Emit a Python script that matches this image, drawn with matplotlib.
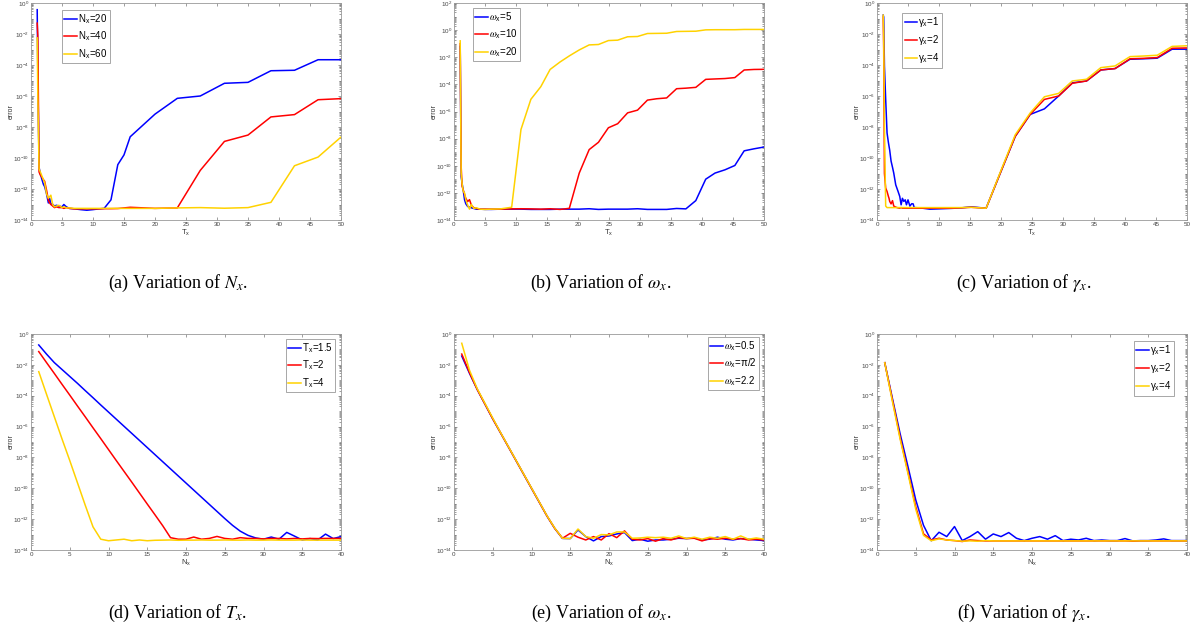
"""Error curves for varying parameters, six panels (MATLAB look)."""
import numpy as np
import matplotlib
matplotlib.use("Agg")
import matplotlib.pyplot as plt
from matplotlib.ticker import LogLocator, NullFormatter

plt.rcParams["font.family"] = ["Liberation Sans", "DejaVu Sans"]
plt.rcParams["mathtext.fontset"] = "stix"

BLUE, RED, YELLOW = "#0000ff", "#ff0000", "#ffd200"

# ---- (a) variation of N_x : error vs T_x (log10 of error) ----
a_tx = [1.0, 1.1, 1.3, 1.5, 1.7, 2.0, 2.2, 2.5, 2.8, 3.0, 3.2, 3.5, 3.8, 4.1, 4.5,
        5.0, 5.3, 5.7, 6.2, 7.0, 8.0, 9.0, 10.0, 11.0, 11.8, 12.9, 14.0, 15.0, 16.0,
        20.0, 23.6, 27.3, 31.2, 35.0, 38.7, 42.5, 46.3, 50.0]
a_nx20 = [-0.43, -4.5, -10.6, -11.0, -11.3, -11.7, -11.85, -12.3, -12.9, -12.6, -12.95,
          -13.0, -13.1, -13.05, -13.1, -13.15, -13.0, -13.15, -13.25, -13.28, -13.33,
          -13.37, -13.33, -13.28, -13.25, -12.7, -10.43, -9.8, -8.63, -7.17, -6.15,
          -6.0, -5.18, -5.12, -4.37, -4.34, -3.66, -3.66]
a_nx40 = [-1.3, -2.1, -10.9, -11.1, -11.2, -11.4, -11.5, -12.06, -12.7, -12.9, -13.0,
          -13.1, -13.2, -13.15, -13.2, -13.2, -13.25, -13.2, -13.25, -13.28, -13.28,
          -13.28, -13.28, -13.28, -13.27, -13.27, -13.26, -13.22, -13.18, -13.25,
          -13.22, -10.8, -8.93, -8.52, -7.35, -7.2, -6.24, -6.17]
a_nx60 = [-2.25, -6.0, -10.7, -10.9, -11.1, -11.4, -11.6, -12.3, -12.6, -12.5, -12.4,
          -13.0, -13.15, -13.1, -13.05, -13.2, -13.15, -13.22, -13.22, -13.25, -13.25,
          -13.25, -13.25, -13.25, -13.25, -13.25, -13.25, -13.25, -13.25, -13.25,
          -13.22, -13.2, -13.24, -13.2, -12.86, -10.5, -9.94, -8.65]

# ---- (b) variation of omega_x : error vs T_x ----
b_tx = [1.0, 1.15, 1.3, 1.5, 1.7, 1.9, 2.2, 2.5, 2.8, 3.2, 3.6, 4.2, 5.0, 6.0, 7.5,
        9.3, 10.8, 12.4, 14.0, 15.5, 17.1, 18.6, 20.2, 21.8, 23.3, 24.9, 26.4, 28.0,
        29.6, 31.2, 32.7, 34.3, 35.9, 37.4, 39.0, 40.6, 42.1, 43.7, 45.3, 46.8, 48.4, 50.0]
b_w5 = [-1.2, -10.8, -11.28, -11.85, -12.5, -12.8, -13.0, -13.05, -13.1, -13.15, -13.2,
        -13.2, -13.22, -13.22, -13.2, -13.2, -13.2, -13.22, -13.22, -13.22, -13.2, -13.2,
        -13.2, -13.17, -13.22, -13.2, -13.2, -13.2, -13.17, -13.22, -13.22, -13.22,
        -13.15, -13.18, -12.57, -10.99, -10.54, -10.3, -9.98, -8.9, -8.75, -8.62]
b_w10 = [-1.0, -10.0, -11.5, -11.8, -12.1, -12.4, -12.64, -12.5, -12.9, -13.1, -13.15,
         -13.2, -13.2, -13.2, -13.2, -13.18, -13.17, -13.18, -13.2, -13.17, -13.22, -13.14,
         -10.54, -8.81, -8.27, -7.2, -6.9, -6.1, -5.9, -5.16, -5.06, -5.0, -4.32, -4.28,
         -4.22, -3.63, -3.6, -3.57, -3.5, -2.94, -2.9, -2.89]
b_w20 = [-0.79, -10.5, -11.3, -11.9, -12.0, -12.5, -12.9, -13.2, -12.85, -13.15, -13.1,
         -13.2, -13.22, -13.2, -13.18, -13.06, -7.33, -5.1, -4.17, -2.9, -2.35, -1.9, -1.46,
         -1.09, -1.06, -0.77, -0.74, -0.49, -0.47, -0.25, -0.24, -0.23, -0.1, -0.09,
         -0.08, 0.02, 0.03, 0.03, 0.03, 0.05, 0.05, 0.05]

# ---- (c) variation of gamma_x : error vs T_x ----
c_tx = [1.0, 1.08, 1.2, 1.4, 1.62, 1.84, 1.94, 2.05, 2.27, 2.5, 2.7, 3.02, 3.4, 3.67,
        3.89, 4.1, 4.32, 4.55, 4.75, 5.0, 5.3, 5.6, 5.83, 6.0, 7.0, 8.5, 10.0, 12.0, 13.5,
        15.2, 17.6, 20.0, 22.3, 24.7, 27.0, 29.3, 31.5, 33.8, 36.1, 38.4, 40.8, 43.0,
        45.2, 47.6, 50.0]
c_g1 = [-0.78, -0.9, -4.06, -6.22, -8.38, -9.0, -9.24, -9.5, -10.2, -10.6, -10.97, -11.73,
        -12.16, -12.48, -13.02, -12.6, -12.8, -12.7, -13.02, -12.7, -13.1, -12.95, -12.96,
        -13.2, -13.22, -13.3, -13.28, -13.25, -13.22, -13.15, -13.24, -10.86, -8.6, -7.19,
        -6.83, -6.0, -5.15, -5.03, -4.32, -4.23, -3.63, -3.6, -3.56, -2.98, -2.98]
c_g2 = [-0.9, -3.0, -11.0, -11.94, -12.16, -12.48, -12.6, -12.8, -12.96, -12.75, -13.1,
        -13.17, -13.22, -13.24, -13.2, -13.24, -13.24, -13.24, -13.24, -13.24, -13.24,
        -13.24, -13.24, -13.24, -13.24, -13.24, -13.24, -13.24, -13.22, -13.18, -13.24,
        -10.86, -8.6, -7.19, -6.22, -6.0, -5.18, -5.03, -4.32, -4.23, -3.6, -3.57, -3.52,
        -2.92, -2.9]
c_g4 = [-0.78, -2.0, -8.0, -13.1, -13.2, -13.2, -13.2, -13.2, -13.2, -13.2, -13.2, -13.2,
        -13.2, -13.2, -13.2, -13.2, -13.2, -13.2, -13.2, -13.2, -13.2, -13.2, -13.2, -13.2,
        -13.2, -13.2, -13.2, -13.2, -13.2, -13.18, -13.24, -10.8, -8.5, -7.1, -6.05, -5.83,
        -5.03, -4.92, -4.17, -4.06, -3.46, -3.42, -3.37, -2.8, -2.76]

# ---- (d)-(f) : error vs N_x = 1..40 ----
nx = list(range(1, 41))
d_t15 = [-0.71, -1.3, -1.85, -2.3, -2.75, -3.2, -3.67, -4.13, -4.6, -5.06, -5.52, -5.98,
         -6.44, -6.9, -7.36, -7.82, -8.28, -8.74, -9.2, -9.66, -10.12, -10.58, -11.04,
         -11.5, -11.96, -12.4, -12.78, -13.05, -13.22, -13.3, -13.16, -13.3, -12.86,
         -13.1, -13.35, -13.26, -13.35, -12.97, -13.26, -13.13]
d_t2 = [-1.14, -1.85, -2.55, -3.26, -3.96, -4.67, -5.37, -6.08, -6.78, -7.49, -8.2, -8.9,
        -9.6, -10.31, -11.02, -11.72, -12.43, -13.2, -13.3, -13.3, -13.16, -13.3, -13.25,
        -13.12, -13.25, -13.3, -13.2, -13.25, -13.25, -13.28, -13.25, -13.25, -13.28,
        -13.25, -13.28, -13.25, -13.26, -13.25, -13.25, -13.25]
d_t4 = [-2.44, -3.9, -5.35, -6.8, -8.2, -9.65, -11.1, -12.5, -13.3, -13.4, -13.35, -13.3,
        -13.4, -13.35, -13.4, -13.37, -13.36, -13.35, -13.37, -13.36, -13.36, -13.35,
        -13.36, -13.36, -13.35, -13.36, -13.36, -13.35, -13.36, -13.36, -13.35, -13.36,
        -13.36, -13.36, -13.35, -13.36, -13.36, -13.36, -13.36, -13.36]

e_w05 = [-1.43, -2.55, -3.6, -4.55, -5.5, -6.4, -7.3, -8.2, -9.1, -10.0, -10.9, -11.8,
         -12.6, -13.25, -13.26, -12.7, -13.13, -13.41, -13.13, -13.09, -12.96, -12.87,
         -13.39, -13.3, -13.43, -13.35, -13.35, -13.3, -13.24, -13.26, -13.22, -13.35,
         -13.3, -13.17, -13.3, -13.35, -13.26, -13.3, -13.35, -13.39]
e_wpi2 = [-1.3, -2.5, -3.6, -4.55, -5.5, -6.4, -7.3, -8.2, -9.1, -10.0, -10.9, -11.8,
          -12.6, -13.24, -12.92, -13.17, -13.35, -13.13, -13.35, -12.94, -13.2, -12.76,
          -13.3, -13.35, -13.26, -13.43, -13.26, -13.35, -13.2, -13.26, -13.24, -13.41,
          -13.26, -13.3, -13.24, -13.3, -13.26, -13.35, -13.3, -13.35]
e_w22 = [-0.6, -2.35, -3.55, -4.5, -5.45, -6.38, -7.28, -8.18, -9.08, -9.98, -10.88,
         -11.78, -12.58, -13.24, -13.26, -12.64, -13.13, -13.24, -13.0, -13.02, -12.83,
         -12.83, -13.24, -13.22, -13.17, -13.2, -13.17, -13.24, -13.09, -13.26, -13.17,
         -13.3, -13.17, -13.24, -13.13, -13.3, -13.09, -13.3, -13.22, -13.3]

f_g1 = [-1.86, -4.2, -6.5, -8.6, -10.75, -12.4, -13.4, -12.85, -13.13, -12.48, -13.39,
        -13.13, -12.81, -13.3, -12.96, -13.13, -12.87, -13.24, -13.39, -13.24, -13.13,
        -13.3, -13.07, -13.39, -13.3, -13.35, -13.24, -13.39, -13.35, -13.39, -13.39,
        -13.26, -13.41, -13.39, -13.39, -13.35, -13.28, -13.39, -13.39, -13.39]
f_g2 = [-1.86, -4.3, -6.75, -8.95, -11.2, -12.95, -13.35, -13.24, -13.35, -13.39, -13.45,
        -13.35, -13.39, -13.41, -13.41, -13.41, -13.41, -13.41, -13.41, -13.41, -13.41,
        -13.41, -13.41, -13.41, -13.41, -13.41, -13.41, -13.41, -13.41, -13.41, -13.41,
        -13.41, -13.43, -13.41, -13.41, -13.41, -13.41, -13.41, -13.41, -13.41]
f_g4 = [-1.86, -4.4, -6.85, -9.05, -11.35, -13.05, -13.4, -13.28, -13.35, -13.39, -13.43,
        -13.41, -13.43, -13.39, -13.41, -13.41, -13.41, -13.41, -13.41, -13.41, -13.41,
        -13.41, -13.41, -13.41, -13.41, -13.41, -13.41, -13.41, -13.41, -13.41, -13.41,
        -13.41, -13.41, -13.41, -13.41, -13.41, -13.41, -13.41, -13.41, -13.41]

TX = r"T$_\mathregular{x}$"
NX = r"N$_\mathregular{x}$"
OM = r"$\omega_\mathregular{x}$"
GA = r"$\mathregular{\gamma_x}$"

panels = [
    # x, series, labels, xlim, ylim top exponent, xlabel, legend loc/anchor, caption
    (a_tx, [a_nx20, a_nx40, a_nx60], [NX + "=20", NX + "=40", NX + "=60"],
     50, 0, TX, ("upper left", (0.10, 0.968)), r"(a) Variation of $N_x$."),
    (b_tx, [b_w5, b_w10, b_w20], [OM + "=5", OM + "=10", OM + "=20"],
     50, 2, TX, ("upper left", (0.061, 0.977)), r"(b) Variation of $\omega_x$."),
    (c_tx, [c_g1, c_g2, c_g4], [GA + "=1", GA + "=2", GA + "=4"],
     50, 0, TX, ("upper left", (0.081, 0.954)), r"(c) Variation of $\gamma_x$."),
    (nx, [d_t15, d_t2, d_t4], [TX + "=1.5", TX + "=2", TX + "=4"],
     40, 0, NX, ("upper right", (0.981, 0.977)), r"(d) Variation of $T_x$."),
    (nx, [e_w05, e_wpi2, e_w22], [OM + "=0.5", OM + "=π/2", OM + "=2.2"],
     40, 0, NX, ("upper right", (0.984, 0.986)), r"(e) Variation of $\omega_x$."),
    (nx, [f_g1, f_g2, f_g4], [GA + "=1", GA + "=2", GA + "=4"],
     40, 0, NX, ("upper right", (0.958, 0.968)), r"(f) Variation of $\gamma_x$."),
]

W, H = 1198, 631
lefts = [31, 454, 877]
tops = [(3, 220), (334, 550)]
cap_y = [283, 613]

fig = plt.figure(figsize=(W / 100, H / 100), dpi=100)

for i, (x, series, labels, xmax, ytop, xlab, (loc, anchor), cap) in enumerate(panels):
    row, col = divmod(i, 3)
    y0, y1 = tops[row]
    ax = fig.add_axes([lefts[col] / W, 1 - y1 / H, 310 / W, (y1 - y0) / H])
    for s, lab, c in zip(series, labels, [BLUE, RED, YELLOW]):
        ax.plot(x, 10.0 ** np.array(s), color=c, lw=1.1, label=lab)
    ax.set_yscale("log")
    ax.set_xlim(0, xmax)
    ax.set_ylim(1e-14, 10.0 ** ytop)
    ax.set_yticks(10.0 ** np.arange(-14, ytop + 1, 2))
    ax.yaxis.set_minor_locator(LogLocator(base=10, subs=np.arange(1, 10), numticks=200))
    ax.yaxis.set_minor_formatter(NullFormatter())
    ax.set_xticks(np.arange(0, xmax + 1, 5))
    ax.tick_params(which="both", direction="in", top=True, right=True,
                   width=0.5, colors="#777777", labelcolor="#444444",
                   labelsize=4.5, pad=1.5)
    ax.tick_params(which="major", length=2.5)
    ax.tick_params(which="minor", length=1.3)
    for sp in ax.spines.values():
        sp.set_color("#999999")
        sp.set_linewidth(0.6)
    ax.set_xlabel(xlab, fontsize=5.5, labelpad=0.5, color="#333333")
    ax.set_ylabel("error", fontsize=5, labelpad=-1.5, color="#333333")
    leg = ax.legend(loc=loc, bbox_to_anchor=anchor, fontsize=7, handlelength=1.3,
                    handletextpad=0.1, borderpad=0.25, labelspacing=0.4,
                    borderaxespad=0, fancybox=False, framealpha=1)
    leg.get_frame().set_edgecolor("#999999")
    leg.get_frame().set_linewidth(0.6)
    cx = (lefts[col] + 155 - 8) / W
    fig.text(cx, 1 - cap_y[row] / H, cap, ha="center", va="center", fontsize=13,
             family=["Liberation Serif", "DejaVu Serif"])

fig.savefig("out.png", dpi=100)
